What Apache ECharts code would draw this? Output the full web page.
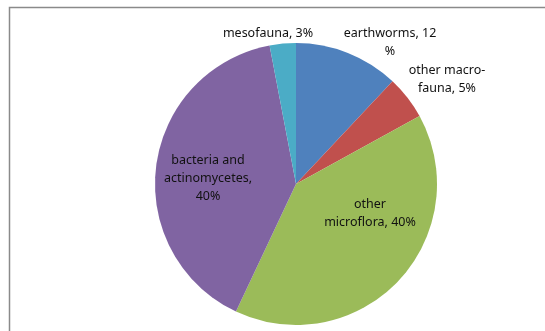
<!DOCTYPE html>
<html>
<head>
<meta charset="utf-8" />
<title>pie</title>
<script src="https://cdn.jsdelivr.net/npm/echarts@6/dist/echarts.min.js"></script>
<style>
  html, body { margin: 0; padding: 0; background: #fff; }
  #main { width: 545px; height: 331px; }
</style>
</head>
<body>
<div id="main"></div>
<script>
// slices, clockwise from 12 o'clock
var names = ['earthworms', 'other macro-fauna', 'other microflora', 'bacteria and actinomycetes', 'mesofauna'];
var values = [12, 5, 40, 40, 3];
var labelTexts = ['earthworms, 12\n%', 'other macro-\nfauna, 5%', 'other\nmicroflora, 40%', 'bacteria and\nactinomycetes,\n40%', 'mesofauna, 3%'];
var colors = ['#4F81BD', '#C0504D', '#9BBB59', '#8064A2', '#4BACC6'];

// where each label sits (centre of the text block)
var labelPos = [[390, 42], [447, 79], [370, 213], [208, 178], [268, 33]];

var chart = echarts.init(document.getElementById('main'));

var data = [];
for (var i = 0; i < names.length; i++) {
  data.push({ name: names[i], value: values[i], itemStyle: { color: colors[i] } });
}

chart.setOption({
  animation: false,
  graphic: [{
    type: 'rect',
    shape: { x: 9.5, y: 7.5, width: 700, height: 500 },
    style: { fill: 'none', stroke: '#8a8a8a', lineWidth: 1.5 },
    silent: true
  }],
  series: [{
    type: 'pie',
    center: [296, 184],
    radius: 141,
    startAngle: 90,
    clockwise: true,
    data: data,
    label: {
      show: true,
      position: 'outside',
      color: '#111',
      fontFamily: 'Noto Sans',
      fontSize: 12.5,
      lineHeight: 18,
      align: 'center',
      overflow: 'none',
      formatter: function (p) { return labelTexts[p.dataIndex]; }
    },
    labelLine: { show: false },
    labelLayout: function (p) {
      var pos = labelPos[p.dataIndex];
      return { x: pos[0], y: pos[1], align: 'center', verticalAlign: 'middle', width: 140 };
    }
  }]
});
</script>
</body>
</html>
